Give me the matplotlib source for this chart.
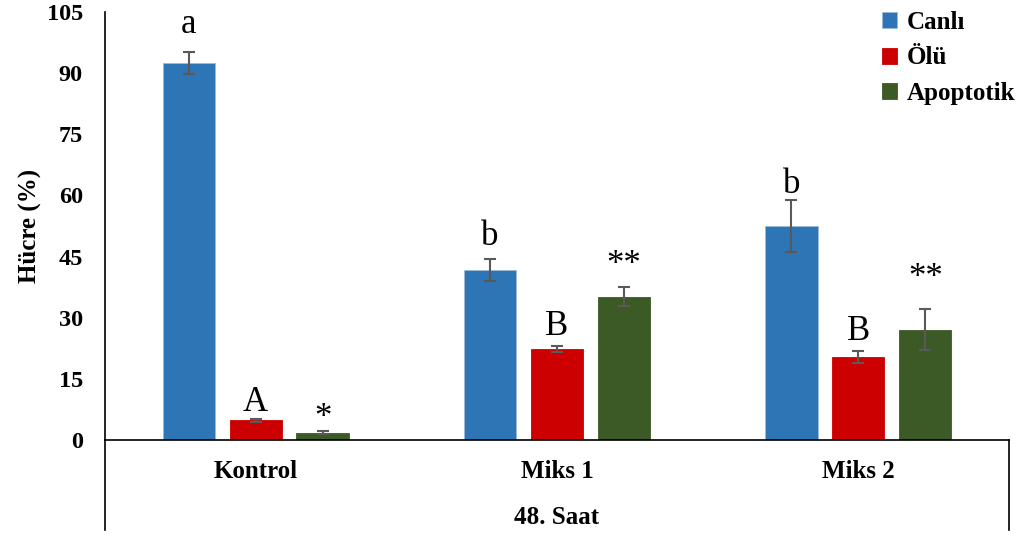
import matplotlib.pyplot as plt
import numpy as np

plt.rcParams["font.family"] = ["Liberation Serif", "DejaVu Serif"]

# ---------- data ----------
groups = ["Kontrol", "Miks 1", "Miks 2"]
outer_label = "48. Saat"
series = ["Canlı", "Ölü", "Apoptotik"]
colors = ["#2E75B6", "#CC0000", "#3C5A25"]

canli = [92.6, 41.7, 52.4]
canli_err = [2.7, 2.8, 6.4]
olu = [4.8, 22.3, 20.3]
olu_err = [0.4, 0.7, 1.5]
apoptotik = [1.8, 35.2, 27.1]
apoptotik_err = [0.3, 2.4, 5.1]

values = [canli, olu, apoptotik]
errors = [canli_err, olu_err, apoptotik_err]

# significance letters and the height of their baseline
letters = [["a", "b", "b"], ["A", "B", "B"], ["*", "**", "**"]]
letter_y = [[99.8, 47.8, 60.6], [7.1, 25.8, 24.6], [3.2, 40.7, 37.5]]

yticks = [0, 15, 30, 45, 60, 75, 90, 105]

# ---------- figure ----------
fig = plt.figure(figsize=(10.24, 5.35), dpi=100)
ax = fig.add_axes([105 / 1024, 95 / 535, 904 / 1024, 428 / 535])

x = np.arange(len(groups))
width = 0.173
step = 0.222

for i in range(3):
    xs = x + (i - 1) * step
    ax.bar(xs, values[i], width, color=colors[i], edgecolor="#9DB9D9" if i == 0 else colors[i],
           linewidth=0.6, label=series[i], zorder=2)
    ax.errorbar(xs, values[i], yerr=errors[i], fmt="none", ecolor="#595959",
                elinewidth=1.5, capsize=4, capthick=1.5, zorder=3)
    for j in range(len(groups)):
        ax.text(xs[j], letter_y[i][j], letters[i][j], ha="center", va="baseline",
                fontsize=25, color="black")

ax.set_xlim(-0.5, 2.5)
ax.set_ylim(0, 105)
ax.set_yticks(yticks)
ax.set_yticklabels([str(t) for t in yticks], fontsize=17.5, fontweight="bold")
ax.tick_params(axis="y", length=0, pad=16)
ax.set_xticks([])

for s in ["top", "right"]:
    ax.spines[s].set_visible(False)
ax.spines["left"].set_linewidth(1.2)
ax.spines["bottom"].set_linewidth(1.2)

# multi-level category axis
ax.plot([0, 0], [0, -0.21], color="black", lw=1.2, transform=ax.transAxes, clip_on=False)
ax.plot([1, 1], [0, -0.21], color="black", lw=1.2, transform=ax.transAxes, clip_on=False)
for j, g in enumerate(groups):
    ax.text(x[j], -0.074, g, transform=ax.get_xaxis_transform(), ha="center", va="center",
            fontsize=18, fontweight="bold")
ax.text(0.5, -0.18, outer_label, transform=ax.transAxes, ha="center", va="center",
        fontsize=18, fontweight="bold")

ax.set_ylabel("Hücre (%)", fontsize=18, fontweight="bold", labelpad=3)

leg = ax.legend(loc="upper right", bbox_to_anchor=(1.032, 1.055), frameon=False,
                prop={"size": 18, "weight": "bold"}, handlelength=0.6, handleheight=0.6,
                handletextpad=0.4, labelspacing=0.5)

fig.savefig("out.png", dpi=100)
